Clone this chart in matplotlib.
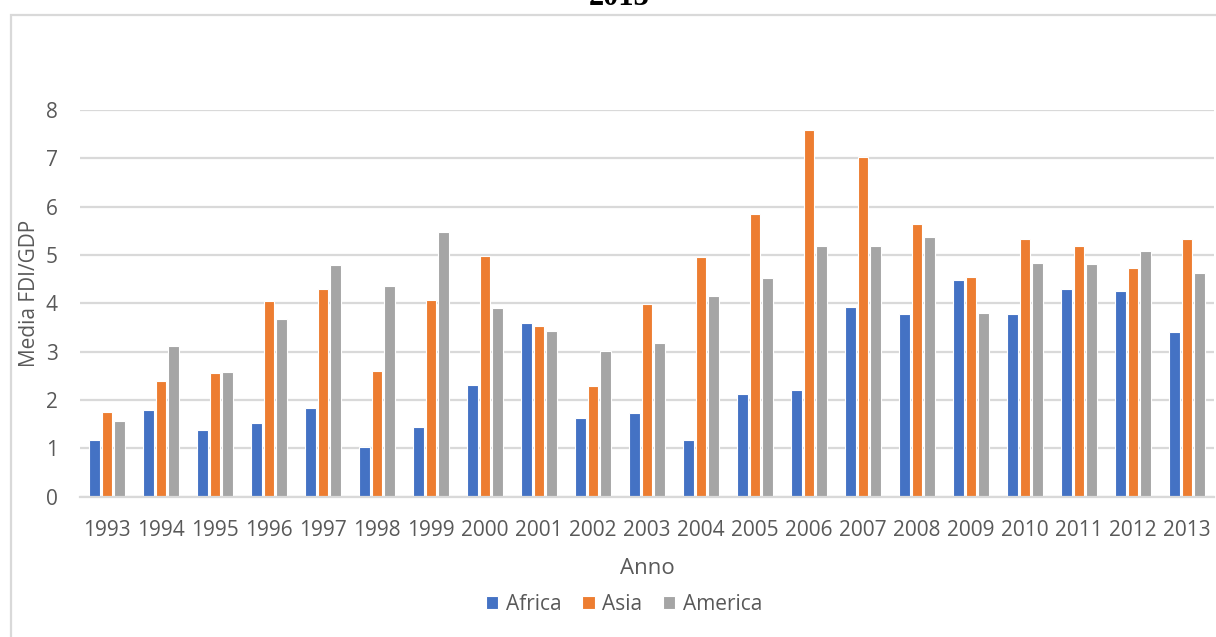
import matplotlib
matplotlib.use("Agg")
import matplotlib.pyplot as plt
from matplotlib.patches import Rectangle
import numpy as np

years = [str(y) for y in range(1993, 2014)]
africa = [1.17, 1.79, 1.39, 1.52, 1.84, 1.02, 1.44, 2.32, 3.59, 1.62, 1.73,
          1.17, 2.13, 2.21, 3.93, 3.77, 4.49, 3.77, 4.30, 4.25, 3.40]
asia = [1.76, 2.39, 2.55, 4.04, 4.30, 2.61, 4.07, 4.97, 3.54, 2.29, 3.99,
        4.95, 5.84, 7.59, 7.03, 5.64, 4.54, 5.34, 5.18, 4.73, 5.34]
america = [1.57, 3.11, 2.58, 3.67, 4.79, 4.35, 5.47, 3.91, 3.43, 3.01, 3.19,
           4.15, 4.52, 5.18, 5.18, 5.37, 3.80, 4.84, 4.81, 5.08, 4.62]
series = [("Africa", africa, "#4472C4"),
          ("Asia", asia, "#ED7D31"),
          ("America", america, "#A5A5A5")]
y_ticks = [0, 1, 2, 3, 4, 5, 6, 7, 8]

W, H = 1216, 637
plt.rcParams["font.family"] = ["Open Sans", "DejaVu Sans"]
text_color = "#595959"
grid_color = "#d9d9d9"

fig = plt.figure(figsize=(W / 100, H / 100), dpi=100)
fig.patch.set_facecolor("white")

# outer chart frame
fig.patches.append(Rectangle((10.5 / W, -0.1), 1.2, 1.1 - 14.5 / H,
                             transform=fig.transFigure, fill=False,
                             edgecolor=grid_color, linewidth=1.6))

# caption fragment above the frame
fig.text(619 / W, 1 - 5 / H, "2013", fontsize=22, fontweight="bold",
         family="Liberation Serif", ha="center", va="baseline", color="black")

left, right = 80 / W, 1214 / W
bottom, top = 1 - 496.7 / H, 1 - 110 / H
ax = fig.add_axes([left, bottom, right - left, top - bottom])

x = np.arange(len(years))
step = 0.226
width = 0.2
for i, (name, vals, col) in enumerate(series):
    ax.bar(x + (i - 1) * step, vals, width=width, color=col,
           edgecolor="white", linewidth=0.8, label=name, zorder=3)

ax.set_xlim(-0.5, len(years) - 0.5)
ax.set_ylim(0, 8)
ax.set_yticks(y_ticks)
ax.set_xticks(x)
ax.set_xticklabels(years)
ax.tick_params(axis="both", length=0, labelsize=15, labelcolor=text_color)
ax.tick_params(axis="y", pad=16)
ax.tick_params(axis="x", pad=17)
ax.yaxis.grid(True, color=grid_color, linewidth=1.6, zorder=0)
ax.set_axisbelow(True)
for s in ["left", "right", "top"]:
    ax.spines[s].set_visible(False)
ax.spines["bottom"].set_color(grid_color)
ax.spines["bottom"].set_linewidth(1.6)
ax.spines["bottom"].set_zorder(4)

fig.text(30 / W, 1 - 293 / H, "Media FDI/GDP", rotation=90, fontsize=15,
         color=text_color, ha="center", va="center")
fig.text(647 / W, 1 - 569 / H, "Anno", fontsize=16, color=text_color,
         ha="center", va="center")

fig.legend(loc="center", bbox_to_anchor=(624 / W, 1 - 604 / H), ncol=3,
           frameon=False, fontsize=15, labelcolor=text_color,
           handlelength=0.6, handleheight=0.6, handletextpad=0.35,
           columnspacing=1.0, borderpad=0)

fig.savefig("out.png", dpi=100, facecolor="white")
